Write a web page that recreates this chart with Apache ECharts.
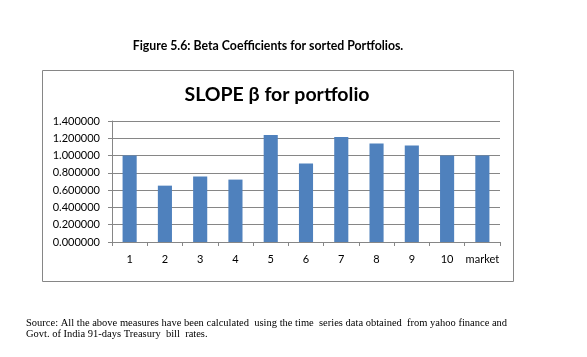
<!DOCTYPE html>
<html><head><meta charset="utf-8">
<script src="https://cdn.jsdelivr.net/npm/echarts@6/dist/echarts.min.js"></script>
<style>html,body{margin:0;padding:0;background:#fff}#c{width:587px;height:357px}</style>
</head><body><div id="c"></div>
<script>
const categories = ['1','2','3','4','5','6','7','8','9','10','market'];
const betaValues = [1.000, 0.652, 0.757, 0.722, 1.238, 0.907, 1.215, 1.139, 1.116, 1.000, 1.000];
const yTicks = [0, 0.2, 0.4, 0.6, 0.8, 1.0, 1.2, 1.4];

const chart = echarts.init(document.getElementById('c'));
chart.setOption({
  animation: false,
  backgroundColor: '#fff',
  title: [
    {text: 'Figure 5.6: Beta Coefficients for sorted Portfolios.', left: 263, top: 35, textAlign: 'center',
     textStyle: {fontFamily: 'Lato', fontWeight: 'bold', fontSize: 12.3, color: '#000'}},
    {text: 'SLOPE β for portfolio', left: 272, top: 80, textAlign: 'center',
     textStyle: {fontFamily: 'Lato', fontWeight: 'bold', fontSize: 19.5, color: '#000'}}
  ],
  graphic: [
    {type: 'rect', shape: {x: 42.5, y: 70.5, width: 471, height: 211}, style: {fill: 'none', stroke: '#868686', lineWidth: 1}, z: -1},
    {type: 'text', left: 26, top: 318, style: {text: 'Source: All the above measures have been calculated  using the time  series data obtained  from yahoo finance and\nGovt. of India 91-days Treasury  bill  rates.', fontFamily: 'Liberation Serif', fontSize: 10.5, lineHeight: 11, fill: '#000'}}
  ],
  grid: {left: 112, top: 121, width: 388, height: 121, containLabel: false},
  xAxis: {
    type: 'category', data: categories,
    axisLine: {lineStyle: {color: '#868686'}},
    axisTick: {show: true, alignWithLabel: false, length: 4, interval: 0, lineStyle: {color: '#868686'}},
    axisLabel: {fontFamily: 'Lato', fontSize: 11, color: '#000', margin: 12, interval: 0}
  },
  yAxis: {
    type: 'value', min: 0, max: 1.4, interval: 0.2,
    axisLine: {show: true, lineStyle: {color: '#868686'}},
    axisTick: {show: true, length: 4, lineStyle: {color: '#868686'}},
    splitLine: {lineStyle: {color: '#868686'}},
    axisLabel: {fontFamily: 'Lato', fontSize: 11, color: '#000', margin: 12,
      formatter: v => v.toFixed(6)}
  },
  series: [{
    type: 'bar', data: betaValues, barWidth: '40%',
    itemStyle: {color: '#4f81bd'}
  }]
});
</script></body></html>
